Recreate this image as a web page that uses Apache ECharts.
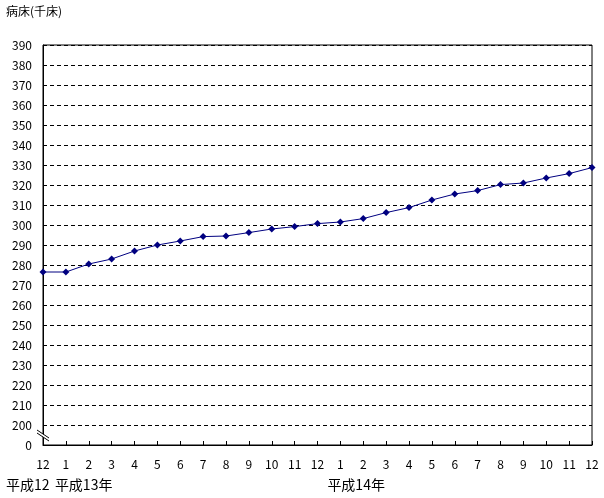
<!DOCTYPE html>
<html><head><meta charset="utf-8">
<script src="https://cdn.jsdelivr.net/npm/echarts@6/dist/echarts.min.js"></script>
<style>html,body{margin:0;padding:0;background:#fff}#c{width:604px;height:498px}</style>
</head><body><div id="c"></div>
<script>
const months = ['12','1','2','3','4','5','6','7','8','9','10','11','12','1','2','3','4','5','6','7','8','9','10','11','12'];
const beds = [276.5,276.5,280.5,283,287,290,292,294.2,294.5,296.2,298,299.2,300.7,301.5,303.2,306.2,308.7,312.5,315.5,317.2,320.2,321,323.5,325.7,328.7];
const yearLabels = ['平成12','平成13年','平成14年'];
const yMin = 190, yMax = 390, yStep = 10;
const font = '"Noto Sans CJK JP", "DejaVu Sans", sans-serif';

const chart = echarts.init(document.getElementById('c'), null, {renderer:'canvas'});
chart.setOption({
  animation:false,
  grid:{left:43,right:12,top:45,bottom:53,show:true,borderColor:'#000',borderWidth:1,backgroundColor:'transparent'},
  xAxis:{type:'category',data:months,boundaryGap:false,
    axisLine:{lineStyle:{color:'#000',width:1}},
    axisTick:{inside:true,length:4,alignWithLabel:true,lineStyle:{color:'#000'}},
    axisLabel:{color:'#000',fontSize:12,fontFamily:font,margin:13,interval:0},
    splitLine:{show:false}},
  yAxis:{type:'value',min:yMin,max:yMax,interval:yStep,
    axisLine:{show:true,lineStyle:{color:'#000'}},
    axisTick:{show:false},
    axisLabel:{color:'#000',fontSize:12,fontFamily:font,margin:11,formatter:v=>v===yMin?'0':String(v)},
    splitLine:{show:true,lineStyle:{color:'#000',type:[4,3],width:1}}},
  series:[{type:'line',data:beds,symbol:'diamond',symbolSize:7,
    lineStyle:{color:'#000080',width:1},itemStyle:{color:'#000080'}}]
});
const p = chart.convertToPixel({gridIndex:0},[0,195]);
const x0 = chart.convertToPixel({gridIndex:0},[0,yMin])[0];
const xi1 = chart.convertToPixel({gridIndex:0},[1,yMin])[0];
const xi13 = chart.convertToPixel({gridIndex:0},[13,yMin])[0];
const cx=p[0], cy=p[1];
chart.setOption({graphic:[
  {type:'text',left:6,top:5,style:{text:'病床(千床)',fill:'#000',font:'12px '+font}},
  {type:'polygon',shape:{points:[[cx-6,cy-5],[cx+6,cy+3],[cx+6,cy+6],[cx-6,cy-2]]},style:{fill:'#fff',stroke:null},z:100},
  {type:'line',shape:{x1:cx-6,y1:cy-5,x2:cx+6,y2:cy+3},style:{stroke:'#000',lineWidth:1},z:101},
  {type:'line',shape:{x1:cx-6,y1:cy-2,x2:cx+6,y2:cy+6},style:{stroke:'#000',lineWidth:1},z:101},
  {type:'text',x:x0-37,y:478,style:{text:yearLabels[0],fill:'#000',font:'14px '+font}},
  {type:'text',x:xi1-11,y:478,style:{text:yearLabels[1],fill:'#000',font:'14px '+font}},
  {type:'text',x:xi13-13,y:478,style:{text:yearLabels[2],fill:'#000',font:'14px '+font}}
]});
</script></body></html>
